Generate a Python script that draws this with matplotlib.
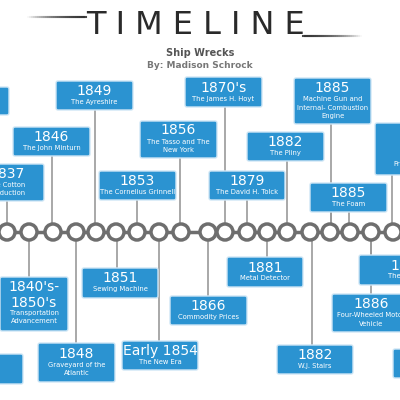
import matplotlib.pyplot as plt
from matplotlib.patches import FancyBboxPatch, Circle
import numpy as np

# timeline nodes (x in pixels along the axis)
node_x = [7, 29, 53, 76, 96, 116, 137, 159, 181, 208, 225, 247, 267, 287, 310, 330, 350, 371, 393]

# events: year, caption, box (left, top, right, bottom), connector x
years = ["", "1849", "1846", "1837", "1853", "1856", "1870's", "1879", "1882", "1885", "1885", "18",
         "1840's-\n1850's", "S", "1848", "1851", "Early 1854", "1866", "1881", "1882", "18", "1886", ""]
captions = ["", "The Ayreshire", "The John Minturn", "The Cotton\nProduction", "The Cornelius Grinnell",
            "The Tasso and The\nNew York", "The James H. Hoyt", "The David H. Tolck", "The Pliny",
            "Machine Gun and\nInternal- Combustion\nEngine", "The Foam", "1\nPo\nProgress",
            "Transportation\nAdvancement", "ns", "Graveyard of the\nAtlantic", "Sewing Machine",
            "The New Era", "Commodity Prices", "Metal Detector", "W.J. Stairs", "The Ca",
            "Four-Wheeled Motor\nVehicle", ""]
boxes = [(-60, 87, 9, 115), (56, 81, 133, 110), (13, 127, 90, 156), (-30, 164, 44, 201),
         (99, 171, 176, 200), (140, 121, 217, 158), (185, 77, 262, 107), (209, 171, 285, 200),
         (247, 132, 324, 161), (294, 78, 371, 124), (310, 183, 387, 212), (375, 123, 440, 175),
         (0, 277, 68, 331), (-50, 354, 23, 384), (38, 343, 115, 382), (82, 268, 158, 298),
         (122, 341, 198, 370), (170, 296, 247, 325), (227, 257, 303, 287), (277, 345, 353, 374),
         (359, 255, 440, 285), (332, 294, 410, 332), (393, 349, 450, 378)]
conn_x = [None, 95, 52, 7, 137, 180, 225, 247, 287, 331, [331, 349], 392,
          29, None, 76, 117, 159, 208, 267, 312, 371, 371, None]

BLUE = "#2b93d1"
GRAY = "#6e6e6e"
AXIS_Y = 232

fig = plt.figure(figsize=(4, 4), dpi=100)
ax = fig.add_axes([0, 0, 1, 1])
ax.set_xlim(0, 400)
ax.set_ylim(400, 0)
ax.axis("off")

# title with fading rules
ax.text(196, 26, "T I M E L I N E", ha="center", va="center", fontsize=23,
        color="#2a2a2a", family="DejaVu Sans")
for i, a in enumerate(np.linspace(0.9, 0, 30)):
    ax.plot([84 - i * 2, 86 - i * 2], [17, 17], color="#333333", alpha=a, lw=1.5)
    ax.plot([303 + i * 2, 305 + i * 2], [36, 36], color="#333333", alpha=a, lw=1.5)
ax.text(200, 53, "Ship Wrecks", ha="center", va="center", fontsize=7, color="#555555", fontweight="bold")
ax.text(200, 65, "By: Madison Schrock", ha="center", va="center", fontsize=6.5, color="#777777", fontweight="bold")

# connectors
for (l, t, r, b), cx in zip(boxes, conn_x):
    if cx is None:
        continue
    for x in (cx if isinstance(cx, list) else [cx]):
        y0 = b if b < AXIS_Y else t
        ax.plot([x, x], [y0, AXIS_Y], color="#999999", lw=1.2, zorder=1)

# axis line and nodes
ax.plot([0, 400], [AXIS_Y, AXIS_Y], color=GRAY, lw=2.5, zorder=2)
for x in node_x:
    ax.add_patch(Circle((x, AXIS_Y), 8, facecolor="white", edgecolor=GRAY, lw=2.5, zorder=3))

# boxes
for yr, cap, (l, t, r, b) in zip(years, captions, boxes):
    ax.add_patch(FancyBboxPatch((l, t), r - l, b - t, boxstyle="round,pad=0,rounding_size=2",
                                facecolor=BLUE, edgecolor="#cfe6f5", lw=1, zorder=4))
    cx = (l + r) / 2
    ny = yr.count("\n") + 1
    nc = cap.count("\n") + 1 if cap else 0
    total = ny * 13 + nc * 9
    y = (t + b) / 2 - total / 2
    ax.text(cx, y + ny * 13 / 2, yr, ha="center", va="center", color="white",
            fontsize=10, linespacing=1.1, zorder=5)
    ax.text(cx, y + ny * 13 + nc * 9 / 2, cap, ha="center", va="center", color="white",
            fontsize=4.9, linespacing=1.45, zorder=5)

fig.savefig("out.png", dpi=100)
